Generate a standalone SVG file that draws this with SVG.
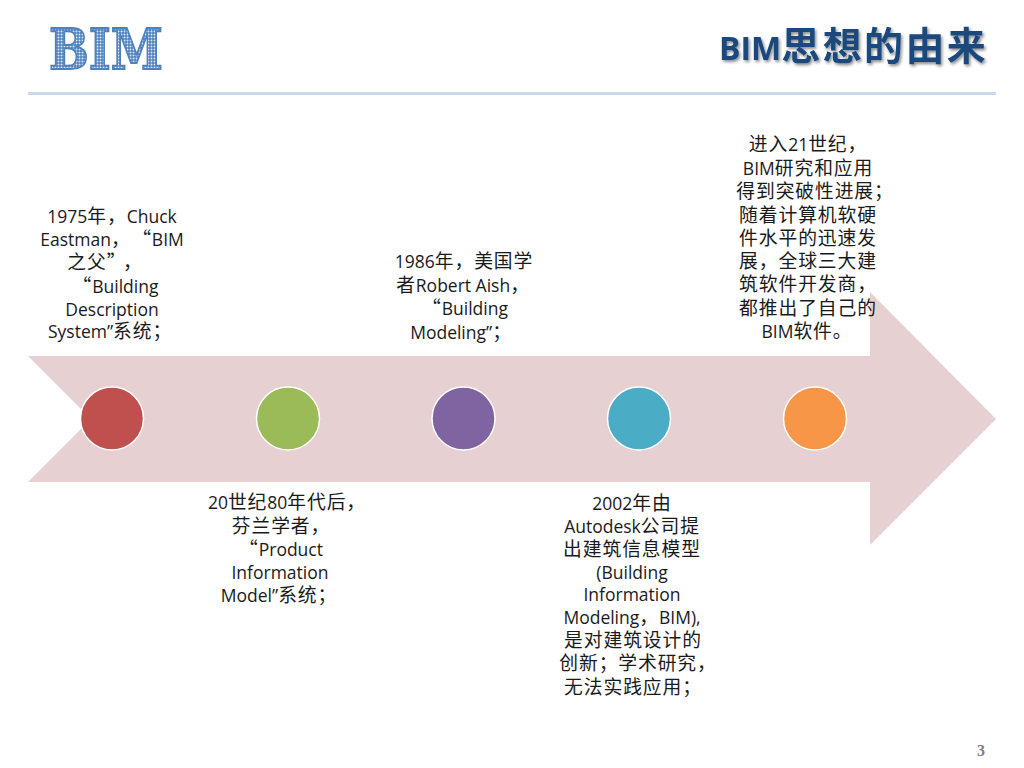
<svg xmlns="http://www.w3.org/2000/svg" width="1024" height="768" viewBox="0 0 1024 768" xml:lang="zh-CN">
<style>
.t{font-family:"Open Sans","Noto Sans CJK SC",sans-serif;font-size:17.5px;fill:#1a1a1a;text-anchor:middle}
.t tspan{font-family:"Noto Sans CJK SC",sans-serif;font-size:18.800px;letter-spacing:.9px}
.c{stroke:#fff;stroke-width:1.5}
.h{font-family:"Open Sans","Noto Sans CJK SC",sans-serif;font-weight:700;font-size:32px;fill:#1f497d}
.h tspan{font-family:"Noto Sans CJK SC",sans-serif;font-size:39px;letter-spacing:2.400px}
</style>
<defs>
<pattern id="dots" width="3" height="3" patternUnits="userSpaceOnUse"><rect width="3" height="3" fill="#4f81bd"/><circle cx="1.5" cy="1.5" r="1" fill="#dce7f4"/></pattern>
<filter id="sh" x="-5%" y="-20%" width="110%" height="140%"><feDropShadow dx="1.500" dy="2" stdDeviation="1.500" flood-color="#000" flood-opacity=".45"/></filter>
</defs>
<rect width="1024" height="768" fill="#fff"/>
<g id="logo"><text x="49" y="69" textLength="114" lengthAdjust="spacingAndGlyphs" style="font-family:'DejaVu Serif',serif;font-weight:700;font-size:56px;fill:url(#dots);stroke:#4f81bd;stroke-width:1.800">BIM</text></g>
<g id="title"><text x="719" y="60" filter="url(#sh)" class="h">BIM<tspan>思想的由来</tspan></text></g>
<rect id="rule" x="28" y="92" width="968" height="3" fill="#c6d9f0"/>
<g id="arrow"><polygon points="28,356 870,356 870,292 996,419 870,545 870,482 28,482 91,419" fill="#e6d0d1"/></g>
<g id="connectors"></g>
<g id="node1"><circle class="c" cx="112" cy="418.500" r="31.500" fill="#c0504d"/>
<text class="t" x="112" y="223">1975<tspan>年，</tspan>Chuck</text>
<text class="t" x="112" y="246">Eastman<tspan>，</tspan><tspan dx="11">“</tspan>BIM</text>
<text class="t" x="105" y="269"><tspan>之父”</tspan><tspan dx="6">，</tspan></text>
<text class="t" x="115.500" y="293"><tspan>“</tspan><tspan dx="3"></tspan>Building</text>
<text class="t" x="112" y="316">Description</text>
<text class="t" x="110" y="338">System”<tspan>系统；</tspan></text></g>
<g id="node2"><circle class="c" cx="288" cy="418.500" r="31.500" fill="#9bbb59"/>
<text class="t" x="287" y="509">20<tspan>世纪</tspan>80<tspan>年代后，</tspan></text>
<text class="t" x="281" y="533"><tspan>芬兰学者，</tspan></text>
<text class="t" x="281" y="556"><tspan>“</tspan>Product</text>
<text class="t" x="280" y="579">Information</text>
<text class="t" x="279" y="602">Model”<tspan>系统；</tspan></text></g>
<g id="node3"><circle class="c" cx="463.500" cy="418.500" r="31.500" fill="#8064a2"/>
<text class="t" x="464" y="268">1986<tspan>年，美国学</tspan></text>
<text class="t" x="463" y="292"><tspan>者</tspan>Robert Aish<tspan>，</tspan></text>
<text class="t" x="465" y="315"><tspan>“</tspan>Building</text>
<text class="t" x="461" y="339">Modeling”<tspan>；</tspan></text></g>
<g id="node4"><circle class="c" cx="639" cy="418.500" r="31.500" fill="#4bacc6"/>
<text class="t" x="632" y="510">2002<tspan>年由</tspan></text>
<text class="t" x="632" y="533">Autodesk<tspan>公司提</tspan></text>
<text class="t" x="632" y="556"><tspan>出建筑信息模型</tspan></text>
<text class="t" x="632" y="579">(Building</text>
<text class="t" x="632" y="601">Information</text>
<text class="t" x="632" y="624">Modeling<tspan>，</tspan>BIM),</text>
<text class="t" x="633" y="647"><tspan>是对建筑设计的</tspan></text>
<text class="t" x="638" y="670"><tspan>创新；学术研究，</tspan></text>
<text class="t" x="633" y="694"><tspan>无法实践应用；</tspan></text></g>
<g id="node5"><circle class="c" cx="815" cy="418.500" r="31.500" fill="#f79646"/>
<text class="t" x="808" y="151"><tspan>进入</tspan>21<tspan>世纪，</tspan></text>
<text class="t" x="808" y="175">BIM<tspan>研究和应用</tspan></text>
<text class="t" x="815" y="198"><tspan>得到突破性进展；</tspan></text>
<text class="t" x="808" y="222"><tspan>随着计算机软硬</tspan></text>
<text class="t" x="808" y="245"><tspan>件水平的迅速发</tspan></text>
<text class="t" x="808" y="268"><tspan>展，全球三大建</tspan></text>
<text class="t" x="808" y="291"><tspan>筑软件开发商，</tspan></text>
<text class="t" x="808" y="315"><tspan>都推出了自己的</tspan></text>
<text class="t" x="807" y="338">BIM<tspan>软件。</tspan></text></g>
<text id="page" x="981" y="756" text-anchor="middle" style="font-family:'Liberation Serif',serif;font-weight:700;font-size:16px;fill:#808080">3</text>
</svg>
